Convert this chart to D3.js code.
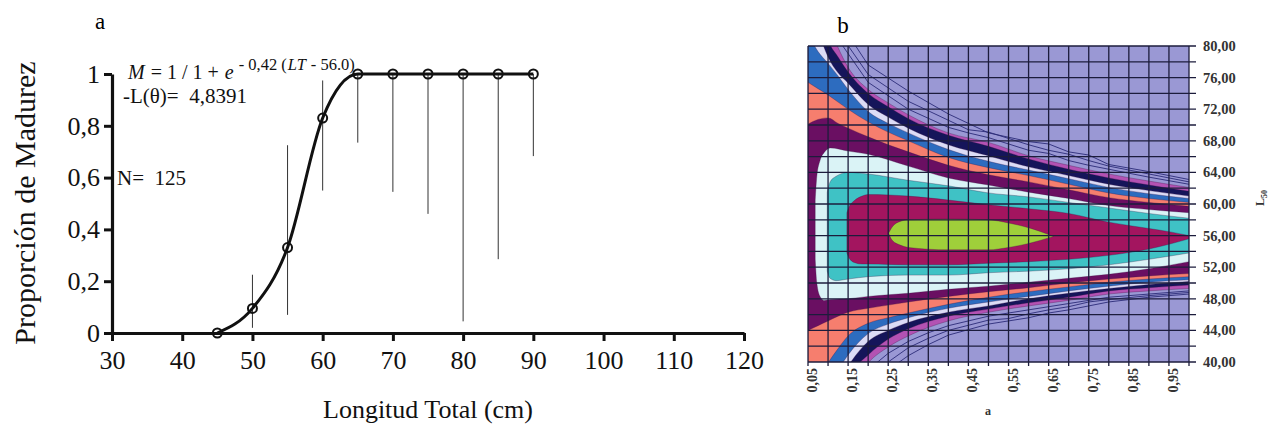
<!DOCTYPE html>
<html>
<head>
<meta charset="utf-8">
<script src="https://cdn.jsdelivr.net/npm/d3@7"></script>
<style>
  body { margin: 0; background: #fff; }
  svg { display: block; }
  text { font-family: "Liberation Serif", "Times New Roman", serif; }
</style>
</head>
<body>
<div id="chart"></div>
<script>
// ---- panel a: maturity ogive ----
var lengths = [45, 50, 55, 60, 65, 70, 75, 80, 85, 90];
var propMature = [0, 0.095, 0.33, 0.83, 1, 1, 1, 1, 1, 1];
var ciLow = [0, 0.02, 0.07, 0.55, 0.735, 0.545, 0.46, 0.045, 0.285, 0.683];
var ciHigh = [0, 0.225, 0.725, 0.975, 1, 1, 1, 1, 1, 1];
var xTicksA = [30, 40, 50, 60, 70, 80, 90, 100, 110, 120];
var yTicksA = [0, 0.2, 0.4, 0.6, 0.8, 1];

// ---- panel b: likelihood contour bands (L50 read at each a) ----
var aGrid = [0.05, 0.075, 0.1, 0.125, 0.15, 0.2, 0.25, 0.3, 0.4, 0.5, 0.6, 0.7, 0.8, 0.9, 1.0];
var magentaHi = [95, 88, 83, 79.8, 77.3, 74.5, 72.8, 71.3, 69.0, 67.8, 66.1, 64.9, 63.8, 62.9, 62.1];
var magentaLo = [24, 27, 30.5, 33.5, 36.3, 39.9, 41.9, 43.3, 45.2, 46.3, 47.1, 47.8, 48.6, 49.0, 49.3];
var navyHi = [92, 86, 80.8, 78.6, 76.7, 74.0, 72.3, 70.8, 68.7, 67.3, 65.7, 64.4, 63.3, 62.4, 61.6];
var navyLo = [27, 30, 33, 35.8, 38.2, 40.9, 42.9, 44.2, 45.8, 46.7, 47.5, 48.2, 49.0, 49.4, 49.75];
var paleHi = [86, 82, 78.6, 76.6, 75.3, 72.6, 71.0, 69.6, 67.5, 66.1, 64.7, 63.6, 62.5, 61.7, 61.0];
var paleLo = [30, 32.5, 35, 37.5, 39.5, 42.6, 44.0, 45.0, 46.3, 47.1, 48.0, 48.7, 49.3, 49.8, 50.2];
var blueHi = [81.5, 79.3, 77.8, 76.2, 74.5, 71.7, 70.2, 69.0, 66.9, 65.4, 64.3, 63.2, 62.1, 61.3, 60.7];
var blueLo = [32, 34.5, 37, 39.0, 40.9, 43.6, 44.8, 45.6, 46.8, 47.6, 48.3, 49.0, 49.6, 50.1, 50.4];
var salmonHi = [75.4, 74.6, 73.8, 72.9, 72.0, 70.4, 69.1, 68.0, 65.9, 64.6, 63.6, 62.5, 61.4, 60.7, 60.2];
var salmonLo = [36, 38, 39.9, 41.7, 43.3, 44.9, 45.6, 46.2, 47.3, 48.2, 48.9, 49.5, 50.1, 50.5, 50.8];
var plumHi = [70.1, 70.7, 70.9, 70.2, 69.6, 68.5, 67.5, 66.6, 64.9, 63.7, 62.8, 61.8, 60.8, 60.2, 59.7];
var plumLo = [44.0, 44.6, 45.2, 45.8, 46.3, 46.8, 47.2, 47.6, 48.3, 48.9, 49.4, 50.0, 50.5, 50.9, 51.2];

var cyanA = [0.068, 0.072, 0.08, 0.09, 0.106, 0.15, 0.2, 0.3, 0.4, 0.5, 0.6, 0.7, 0.8, 0.9, 1.0];
var cyanHi = [60.5, 63.5, 65.5, 66.5, 67.1, 66.7, 66.3, 64.8, 63.3, 62.4, 61.5, 60.7, 59.8, 59.3, 58.9];
var cyanLo = [53.0, 50.0, 48.3, 47.8, 47.9, 48.0, 48.3, 48.7, 49.2, 49.6, 50.1, 50.6, 51.1, 51.8, 52.7];

var tealA = [0.098, 0.105, 0.12, 0.15, 0.2, 0.3, 0.4, 0.5, 0.6, 0.7, 0.8, 0.9, 1.0];
var tealHi = [61.5, 62.8, 63.5, 64.0, 63.8, 63.0, 62.3, 61.4, 60.9, 60.2, 59.5, 58.8, 58.2];
var tealLo = [51.5, 50.6, 50.3, 50.5, 50.8, 51.0, 51.0, 51.3, 51.5, 51.8, 52.3, 53.0, 53.8];

var maroonA = [0.147, 0.152, 0.165, 0.185, 0.2, 0.3, 0.4, 0.5, 0.6, 0.7, 0.8, 0.9, 0.95, 1.0];
var maroonHi = [58.9, 59.6, 60.4, 61.0, 61.2, 61.0, 60.5, 59.9, 59.4, 58.8, 57.7, 56.9, 56.5, 56.0];
var maroonLo = [53.8, 53.2, 52.6, 52.4, 52.4, 52.3, 52.3, 52.5, 52.7, 53.0, 53.5, 54.3, 54.9, 55.6];

var limeA = [0.251, 0.26, 0.28, 0.3, 0.4, 0.5, 0.55, 0.6, 0.662];
var limeHi = [56.3, 57.1, 57.8, 58.0, 58.1, 58.0, 57.6, 57.0, 55.9];
var limeLo = [56.3, 55.4, 54.8, 54.5, 54.2, 54.2, 54.5, 55.0, 55.9];

// thin isolines in the outer zone
var thinUpA = [0.13, 0.2, 0.3, 0.4, 0.45, 0.5, 0.6, 0.65, 0.7, 0.75, 0.8, 0.9, 1.0];
var thinUp1 = [80.5, 75.4, 72.0, 69.7, 69.0, 68.4, 66.8, 66.4, 65.5, 64.9, 64.4, 63.4, 62.5];
var thinUp2 = [81.5, 76.4, 73.0, 70.6, 69.4, 69.1, 67.5, 66.8, 66.3, 65.5, 64.8, 63.8, 62.8];
var thinUp3 = [83.0, 77.6, 74.3, 71.4, 70.2, 69.0, 67.9, 67.6, 66.6, 66.2, 65.0, 64.1, 63.1];
var thinLoA = [0.2, 0.25, 0.3, 0.35, 0.4, 0.5, 0.55, 0.6, 0.65, 0.7, 0.75, 0.8, 0.9, 1.0];
var thinLo1 = [39.0, 41.1, 42.6, 43.7, 44.6, 45.8, 46.2, 46.6, 47.0, 47.4, 47.8, 48.2, 48.6, 49.0];
var thinLo2 = [37.5, 40.0, 41.8, 43.0, 44.0, 45.3, 45.5, 46.1, 46.6, 47.0, 47.6, 47.9, 48.4, 48.8];
var thinLo3 = [36.0, 39.0, 40.8, 42.2, 43.4, 44.8, 45.2, 45.6, 46.2, 46.6, 47.1, 47.6, 48.2, 48.6];

var xTicksB = [0.05, 0.15, 0.25, 0.35, 0.45, 0.55, 0.65, 0.75, 0.85, 0.95];
var yTicksB = [40, 44, 48, 52, 56, 60, 64, 68, 72, 76, 80];

var width = 1268, height = 428;
var svg = d3.select("#chart").append("svg")
    .attr("width", width)
    .attr("height", height);

// ================= panel a =================
var x = d3.scaleLinear().domain([30, 120]).range([112, 744]);
var y = d3.scaleLinear().domain([0, 1]).range([333, 74]);
var comma = d3.formatLocale({decimal: ",", thousands: ".", grouping: [3], currency: ["", ""]}).format("~g");

var xAxis = svg.append("g")
    .attr("transform", "translate(0," + y(0) + ")")
    .call(d3.axisBottom(x).tickValues(xTicksA).tickSize(8).tickSizeOuter(0).tickPadding(10));
var yAxis = svg.append("g")
    .attr("transform", "translate(" + x(30) + ",0)")
    .call(d3.axisLeft(y).tickValues(yTicksA).tickSize(8).tickSizeOuter(0).tickPadding(4).tickFormat(comma));

[xAxis, yAxis].forEach(function(g) {
    g.select(".domain").attr("stroke", "#111").attr("stroke-width", 3.2);
    g.selectAll(".tick line").attr("stroke", "#111").attr("stroke-width", 3);
    g.selectAll(".tick text")
        .attr("fill", "#111")
        .style("font-family", "'Liberation Serif', serif")
        .style("font-size", "26px");
});

// error bars
svg.append("g").selectAll("line")
    .data(lengths.map(function(d, i) { return {x: d, lo: ciLow[i], hi: ciHigh[i]}; }))
    .enter().append("line")
    .attr("x1", function(d) { return x(d.x); })
    .attr("x2", function(d) { return x(d.x); })
    .attr("y1", function(d) { return y(d.lo); })
    .attr("y2", function(d) { return y(d.hi); })
    .attr("stroke", "#333")
    .attr("stroke-width", 1);

var pts = lengths.map(function(d, i) { return [d, propMature[i]]; });
svg.append("path")
    .attr("d", d3.line()
        .x(function(d) { return x(d[0]); })
        .y(function(d) { return y(d[1]); })
        .curve(d3.curveMonotoneX)(pts))
    .attr("fill", "none")
    .attr("stroke", "#111")
    .attr("stroke-width", 3);

svg.append("g").selectAll("circle")
    .data(pts)
    .enter().append("circle")
    .attr("cx", function(d) { return x(d[0]); })
    .attr("cy", function(d) { return y(d[1]); })
    .attr("r", 4.5)
    .attr("fill", "none")
    .attr("stroke", "#111")
    .attr("stroke-width", 2);

// labels panel a
svg.append("text").attr("x", 100).attr("y", 29).attr("text-anchor", "middle")
    .style("font-size", "23px").text("a");
svg.append("text")
    .attr("transform", "translate(35,203) rotate(-90)")
    .attr("text-anchor", "middle")
    .style("font-size", "30px")
    .attr("fill", "#111")
    .text("Proporción de Madurez");
svg.append("text").attr("x", 428).attr("y", 418).attr("text-anchor", "middle")
    .style("font-size", "26px").attr("fill", "#111")
    .text("Longitud Total (cm)");

// equation, built piece by piece (explicit gaps between pieces)
var ex = 128;
function piece(txt, size, italic, baseY, gap) {
    var t = svg.append("text")
        .attr("x", ex).attr("y", baseY)
        .style("font-size", size + "px")
        .style("font-style", italic ? "italic" : "normal")
        .attr("fill", "#111")
        .text(txt);
    ex += t.node().getComputedTextLength() + gap;
}
piece("M", 20, true, 79, 6);
piece("= 1 / 1 +", 20, false, 79, 6);
piece("e", 20, true, 79, 5);
piece("- 0,42 (", 16.5, false, 70, 1);
piece("LT", 16.5, true, 70, 5);
piece("- 56.0)", 16.5, false, 70, 0);

svg.append("text").attr("x", 123).attr("y", 103).style("font-size", "21px").attr("fill", "#111")
    .text("-L(θ)=\u00a0\u00a04,8391");
svg.append("text").attr("x", 117).attr("y", 185).style("font-size", "21px").attr("fill", "#111")
    .text("N=\u00a0\u00a0125");

// ================= panel b =================
var xb = d3.scaleLinear().domain([0.05, 1.0]).range([808, 1189]);
var yb = d3.scaleLinear().domain([40, 80]).range([362, 46]);

svg.append("defs").append("clipPath").attr("id", "plotb")
    .append("rect")
    .attr("x", xb(0.05)).attr("y", yb(80))
    .attr("width", xb(1.0) - xb(0.05)).attr("height", yb(40) - yb(80));

var pb = svg.append("g").attr("clip-path", "url(#plotb)");

pb.append("rect")
    .attr("x", xb(0.05)).attr("y", yb(80))
    .attr("width", xb(1.0) - xb(0.05)).attr("height", yb(40) - yb(80))
    .attr("fill", "#9a98d4");

var band = d3.area()
    .x(function(d) { return xb(d[0]); })
    .y0(function(d) { return yb(d[2]); })
    .y1(function(d) { return yb(d[1]); })
    .curve(d3.curveMonotoneX);

function rows(as, hi, lo) {
    return as.map(function(a, i) { return [a, hi[i], lo[i]]; });
}

var bands = [
    {fill: "#b352b3", d: rows(aGrid, magentaHi, magentaLo)},
    {fill: "#15155a", d: rows(aGrid, navyHi, navyLo)},
    {fill: "#dcdcf6", d: rows(aGrid, paleHi, paleLo)},
    {fill: "#2d6cbf", d: rows(aGrid, blueHi, blueLo)},
    {fill: "#f67e6e", d: rows(aGrid, salmonHi, salmonLo)},
    {fill: "#6a0f62", d: rows(aGrid, plumHi, plumLo)},
    {fill: "#daf3f6", d: rows(cyanA, cyanHi, cyanLo)},
    {fill: "#3fc2c5", d: rows(tealA, tealHi, tealLo)},
    {fill: "#a3155f", d: rows(maroonA, maroonHi, maroonLo)},
    {fill: "#9fcf3a", d: rows(limeA, limeHi, limeLo)}
];

// thin isolines first (they sit in the outer lavender zone)
var thin = d3.line()
    .x(function(d) { return xb(d[0]); })
    .y(function(d) { return yb(d[1]); })
    .curve(d3.curveLinear);
[[thinUpA, thinUp1], [thinUpA, thinUp2], [thinUpA, thinUp3],
 [thinLoA, thinLo1], [thinLoA, thinLo2], [thinLoA, thinLo3]].forEach(function(t) {
    pb.append("path")
        .attr("d", thin(t[0].map(function(a, i) { return [a, t[1][i]]; })))
        .attr("fill", "none")
        .attr("stroke", "#2b2b78")
        .attr("stroke-width", 0.9);
});

bands.forEach(function(b) {
    pb.append("path")
        .attr("d", band(b.d))
        .attr("fill", b.fill)
        .attr("stroke", "#3a1040")
        .attr("stroke-width", 0.6)
        .attr("stroke-opacity", 0.5);
});

// grid
var gridA = d3.range(0.05, 1.0001, 0.05);
var gridL = d3.range(40, 80.001, 2);
var grid = svg.append("g").attr("stroke", "#1c1c3c").attr("stroke-width", 1.3);
grid.selectAll(".gv").data(gridA).enter().append("line")
    .attr("x1", function(d) { return xb(d); }).attr("x2", function(d) { return xb(d); })
    .attr("y1", yb(80)).attr("y2", yb(40) + 4);
grid.selectAll(".gh").data(gridL).enter().append("line")
    .attr("x1", xb(0.05)).attr("x2", xb(1.0) + 7)
    .attr("y1", function(d) { return yb(d); }).attr("y2", function(d) { return yb(d); });

// tick labels panel b
svg.append("g").selectAll("text")
    .data(xTicksB)
    .enter().append("text")
    .attr("transform", function(d) { return "translate(" + (xb(d) + 9) + ",368) rotate(-90)"; })
    .attr("text-anchor", "end")
    .style("font-size", "14px")
    .style("font-weight", "bold")
    .attr("fill", "#333")
    .text(function(d) { return d3.format(".2f")(d).replace(".", ","); });

svg.append("g").selectAll("text")
    .data(yTicksB)
    .enter().append("text")
    .attr("x", 1203)
    .attr("y", function(d) { return yb(d); })
    .attr("dy", "0.35em")
    .style("font-size", "14.5px")
    .style("font-weight", "bold")
    .attr("fill", "#333")
    .text(function(d) { return d3.format(".2f")(d).replace(".", ","); });

svg.append("text").attr("x", 843).attr("y", 33).attr("text-anchor", "middle")
    .style("font-size", "23px").text("b");
svg.append("text").attr("x", 988).attr("y", 415).attr("text-anchor", "middle")
    .style("font-size", "12px").style("font-weight", "bold").attr("fill", "#333").text("a");
var l50 = svg.append("text")
    .attr("transform", "translate(1264,198) rotate(-90)")
    .attr("text-anchor", "middle")
    .style("font-size", "12px").style("font-weight", "bold").attr("fill", "#333");
l50.append("tspan").text("L");
l50.append("tspan").attr("dy", 3).style("font-size", "8px").text("50");
</script>
</body>
</html>
